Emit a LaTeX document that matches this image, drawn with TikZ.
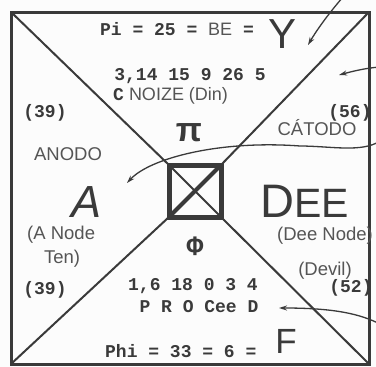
\documentclass[tikz,border=0pt]{standalone}
\usepackage{fontspec}
\setmainfont{Liberation Sans}
\newfontfamily\typew{Liberation Mono}
\usetikzlibrary{arrows.meta}
\definecolor{inkD}{HTML}{3A3A3A}
\definecolor{inkL}{HTML}{555555}
\definecolor{paperW}{HTML}{FCFCFC}
\newcommand\plainsans[1]{{\rmfamily\mdseries\color{inkL}#1}}

\begin{document}
\begin{tikzpicture}[
    x=1pt,y=-1pt,
    >={Stealth[length=8pt,width=5pt]},
    frame/.style={draw=inkD,line width=3pt},
    diag/.style={draw=inkD,line width=2pt},
    hand/.style={->,draw=inkD,line width=1.3pt},
    mono/.style={text=inkD,font=\typew\bfseries\fontsize{18}{20}\selectfont,inner sep=0pt},
    sans/.style={text=inkL,font=\fontsize{18.5}{20}\selectfont,inner sep=0pt},
    big/.style={text=inkD,inner sep=0pt},
]

\fill[paperW] (0,0) rectangle (376,367);
\useasboundingbox (0,0) rectangle (376,367);

% =====================================================================
%  frame, diagonals and the small crossed square in the middle
% =====================================================================
\coordinate (tl) at (11,12);
\coordinate (tr) at (369,12);
\coordinate (bl) at (11,364);
\coordinate (br) at (369,364);
\draw[frame] (tl) rectangle (br);

\node[draw=inkD,line width=5pt,minimum size=52pt,outer sep=0pt,inner sep=0pt]
     (core) at (195,191) {};
\draw[diag] (tl) -- (core.north west);
\draw[diag] (tr) -- (core.north east);
\draw[diag] (bl) -- (core.south west);
\draw[diag] (br) -- (core.south east);
\draw[inkD,line width=4pt] (core.south west) -- (core.north east);
\draw[inkD,line width=2pt] (core.north west) -- (core.south east);

% =====================================================================
%  top triangle
% =====================================================================
\node[mono,anchor=base west] (piline) at (100,35)
     {Pi = 25 = \plainsans{BE} =};
\node[big,anchor=base,font=\fontsize{42}{44}\selectfont] (ybig) at (283,48) {Y};
\node[mono,anchor=base] (pidig) at (190,80) {3,14 15 9 26 5};
\node[mono,anchor=base west] (noize) at (113,100) {C\plainsans{\ NOIZE (Din)}};
\node[big,font=\bfseries\fontsize{34}{36}\selectfont] (pisym) at (189,133) {π};

% =====================================================================
%  left triangle
% =====================================================================
\node[mono,anchor=base] (n39a) at (45,117) {(39)};
\node[sans,anchor=base] (anodo) at (68,160) {ANODO};
\node[big,anchor=base,font=\itshape\fontsize{45}{46}\selectfont] (abig) at (87,217) {A};
\node[sans,anchor=base west] (anode) at (27,239) {(A Node};
\node[sans,anchor=base] (ten) at (62,263) {Ten)};
\node[mono,anchor=base] (n39b) at (45,294) {(39)};

% =====================================================================
%  right triangle
% =====================================================================
\node[mono,anchor=base] (n56) at (350,117) {(56)};
\node[sans,anchor=base] (catodo) at (317,135) {CÁTODO};
\node[big,anchor=base west] (dee) at (260,217)
     {{\fontsize{47}{48}\selectfont D}{\fontsize{41}{42}\selectfont EE}};
\node[sans,anchor=base west] (deenode) at (277,240) {(Dee Node)};
\node[sans,anchor=base] (devil) at (325,275) {(Devil)};
\node[mono,anchor=base] (n52) at (351,292) {(52)};

% =====================================================================
%  bottom triangle
% =====================================================================
\node[big,font=\typew\bfseries\fontsize{28}{30}\selectfont] (phisym) at (195,246) {Φ};
\node[mono,anchor=base] (phidig) at (193,290) {1,6 18 0 3 4};
\node[mono,anchor=base] (proceed) at (199,312) {P R O Cee D};
\node[mono,anchor=base west] (philine) at (105,357) {Phi = 33 = 6 =};
\node[big,anchor=base,font=\fontsize{35}{36}\selectfont] (fbig) at (286,353) {F};

% =====================================================================
%  hand drawn pointers coming in from outside the frame
% =====================================================================
\coordinate (yin) at (343,-3);   \coordinate (yend) at (308,45);
\coordinate (cin) at (380,67);   \coordinate (cend) at (339,75);
\coordinate (ain) at (380,141);  \coordinate (aend) at (127,183);
\coordinate (din) at (380,324);  \coordinate (dend) at (279,308);

\draw[hand] (yin) .. controls (330,12) and (318,28) .. (yend);
\draw[hand] (cin) .. controls (365,68) and (350,72) .. (cend);
\draw[hand] (ain) .. controls (362,153) and (330,146) .. (300,146)
            .. controls (220,140) and (150,158) .. (aend);
\draw[hand] (din) .. controls (360,314) and (335,308) .. (dend);

\end{tikzpicture}
\end{document}
